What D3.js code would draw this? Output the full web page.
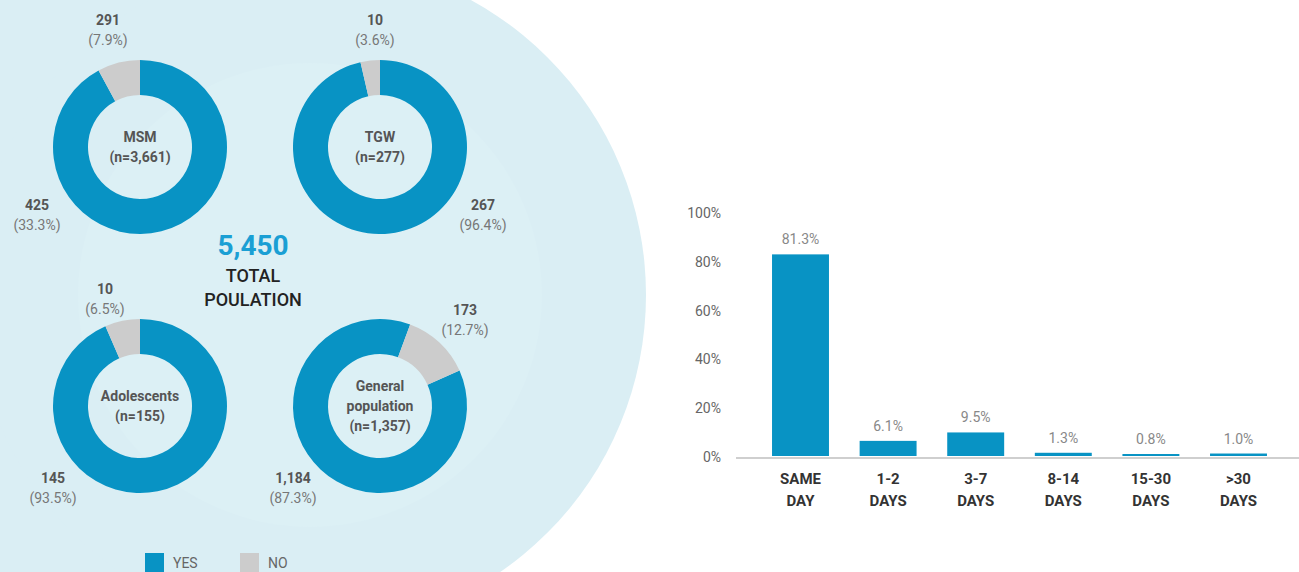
<!DOCTYPE html>
<html>
<head>
<meta charset="utf-8">
<script src="https://cdn.jsdelivr.net/npm/d3@7"></script>
<style>
  body { margin: 0; background: #fff; }
  svg { display: block; font-family: Roboto, "Noto Sans", sans-serif; }
</style>
</head>
<body>
<svg width="1299" height="572"></svg>
<script>
// donut data
const groups = ["MSM", "TGW", "Adolescents", "General population"];
const groupN = ["3,661", "277", "155", "1,357"];
const yesCount = ["425", "267", "145", "1,184"];
const yesPct = [33.3, 96.4, 93.5, 87.3];
const noCount = ["291", "10", "10", "173"];
const noPct = [7.9, 3.6, 6.5, 12.7];
const totalPopulation = "5,450";

// bar data
const days = [["SAME", "DAY"], ["1-2", "DAYS"], ["3-7", "DAYS"], ["8-14", "DAYS"], ["15-30", "DAYS"], [">30", "DAYS"]];
const dayValues = [81.3, 6.1, 9.5, 1.3, 0.8, 1.0];
const yTicks = [0, 20, 40, 60, 80, 100];

// layout only
const rotation = [0, 0, 0, 66];
const labelOffsets = [
  { no: [-32, -127], yes: [-103, 58] },
  { no: [-5, -127], yes: [103, 58] },
  { no: [-35, -117], yes: [-87, 72] },
  { no: [85, -96], yes: [-87, 72] }
];

const blue = "#0893c4", grey = "#cccccc", bg = "#daeef4";
const svg = d3.select("svg");

// background: big circle, filled to the left edge
svg.append("rect").attr("width", 310).attr("height", 572).style("fill", bg);
svg.append("circle").attr("cx", 310).attr("cy", 295).attr("r", 336).style("fill", bg);
svg.append("circle").attr("cx", 310).attr("cy", 295).attr("r", 232).style("fill", "#dcf0f5");

const col = d3.scalePoint().domain([0, 1]).range([140, 380]);
const row = d3.scalePoint().domain([0, 1]).range([147, 406]);

const arc = d3.arc().innerRadius(52).outerRadius(87);

groups.forEach((g, i) => {
  const cx = col(i % 2), cy = row(Math.floor(i / 2));
  const start = rotation[i] * Math.PI / 180;
  const pie = d3.pie().sort(null).startAngle(start).endAngle(start + 2 * Math.PI);
  const gg = svg.append("g").attr("transform", `translate(${cx},${cy})`);
  gg.selectAll("path")
    .data(pie([100 - noPct[i], noPct[i]]))
    .enter()
    .append("path")
    .attr("d", arc)
    .style("fill", (d, j) => (j === 0 ? blue : grey));

  const lines = g === "General population" ? ["General", "population", `(n=${groupN[i]})`] : [g, `(n=${groupN[i]})`];
  gg.selectAll(".center")
    .data(lines)
    .enter()
    .append("text")
    .attr("text-anchor", "middle")
    .attr("y", (d, j) => (j - (lines.length - 1) / 2) * 20 + 5)
    .style("font-size", "14px")
    .style("font-weight", 700)
    .style("fill", "#555")
    .text(d => d);

  const lab = [
    { off: labelOffsets[i].no, n: noCount[i], p: noPct[i] },
    { off: labelOffsets[i].yes, n: yesCount[i], p: yesPct[i] }
  ];
  lab.forEach(l => {
    gg.append("text")
      .attr("x", l.off[0]).attr("y", l.off[1] + 5)
      .attr("text-anchor", "middle")
      .style("font-size", "14px").style("font-weight", 700).style("fill", "#555")
      .text(l.n);
    gg.append("text")
      .attr("x", l.off[0]).attr("y", l.off[1] + 25)
      .attr("text-anchor", "middle")
      .style("font-size", "14px").style("fill", "#777")
      .text(`(${l.p.toFixed(1)}%)`);
  });
});

// total
svg.append("text").attr("x", 253).attr("y", 255).attr("text-anchor", "middle")
  .style("font-size", "28px").style("font-weight", 700).style("fill", "#1a9fd4")
  .text(totalPopulation);
svg.selectAll(".tot")
  .data(["TOTAL", "POULATION"])
  .enter()
  .append("text")
  .attr("x", 253)
  .attr("y", (d, i) => 282 + i * 24)
  .attr("text-anchor", "middle")
  .style("font-size", "18px").style("font-weight", 500).style("fill", "#222")
  .text(d => d);

// legend
const legend = svg.selectAll(".leg")
  .data([["YES", blue], ["NO", grey]])
  .enter()
  .append("g")
  .attr("transform", (d, i) => `translate(${145 + i * 95},553)`);
legend.append("rect").attr("width", 19).attr("height", 19).style("fill", d => d[1]);
legend.append("text").attr("x", 28).attr("y", 15)
  .style("font-size", "14px").style("fill", "#666").text(d => d[0]);

// bar chart
const x = d3.scaleBand()
  .domain(days.map(d => d.join(" ")))
  .range([756.7, 1282.3])
  .paddingInner(0.35)
  .paddingOuter(0.175);
const y = d3.scaleLinear().domain([0, 100]).range([456, 208]);

svg.append("line")
  .attr("x1", 736).attr("x2", 1299)
  .attr("y1", y(0) + 2).attr("y2", y(0) + 2)
  .style("stroke", "#cfcfcf").style("stroke-width", 2);

svg.selectAll(".ytick")
  .data(yTicks)
  .enter()
  .append("text")
  .attr("x", 721)
  .attr("y", d => 457 - d * 2.44 + 5)
  .attr("text-anchor", "end")
  .style("font-size", "14px").style("fill", "#666")
  .text(d => d + "%");

svg.selectAll(".bar")
  .data(dayValues)
  .enter()
  .append("rect")
  .attr("x", (d, i) => x(days[i].join(" ")))
  .attr("width", x.bandwidth())
  .attr("y", d => y(d))
  .attr("height", d => y(0) - y(d))
  .style("fill", blue);

svg.selectAll(".val")
  .data(dayValues)
  .enter()
  .append("text")
  .attr("x", (d, i) => x(days[i].join(" ")) + x.bandwidth() / 2)
  .attr("y", d => y(d) - 10)
  .attr("text-anchor", "middle")
  .style("font-size", "14px").style("fill", "#888")
  .text(d => d.toFixed(1) + "%");

const xl = svg.selectAll(".xl")
  .data(days)
  .enter()
  .append("text")
  .attr("text-anchor", "middle")
  .attr("transform", d => `translate(${x(d.join(" ")) + x.bandwidth() / 2},0)`)
  .style("font-size", "15px").style("font-weight", 700).style("fill", "#333");
xl.selectAll("tspan")
  .data(d => d)
  .enter()
  .append("tspan")
  .attr("x", 0)
  .attr("y", (d, i) => 484 + i * 22)
  .text(d => d);
</script>
</body>
</html>
